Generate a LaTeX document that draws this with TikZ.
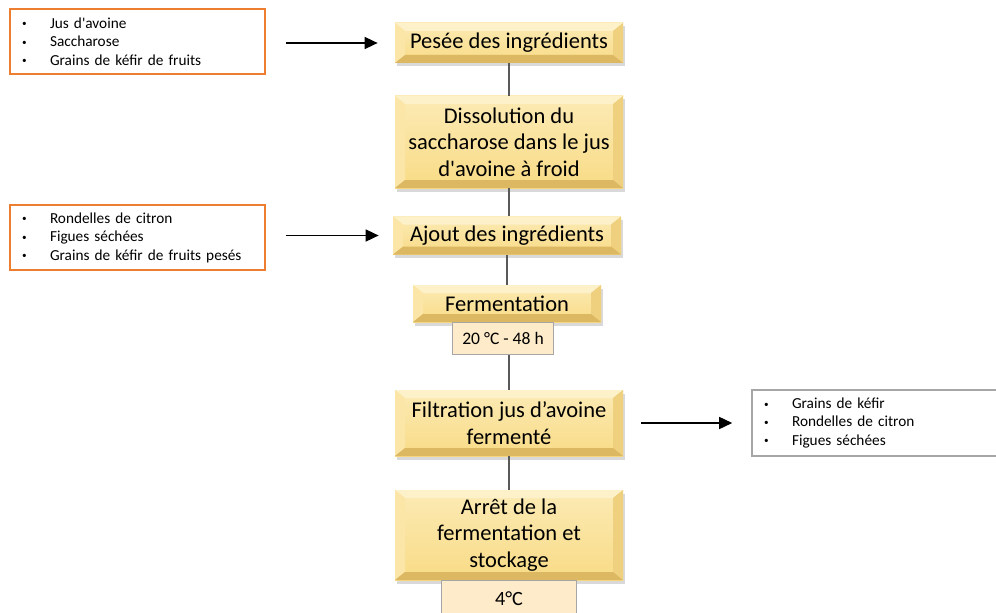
\documentclass[tikz,border=0pt]{standalone}
\usepackage{fontspec}
\setmainfont{Carlito}
\usetikzlibrary{arrows.meta,shadows}
\definecolor{GoldFace}{HTML}{F8DB86}
\definecolor{GoldTop}{HTML}{FDF1C9}
\definecolor{GoldLeft}{HTML}{FBE6A8}
\definecolor{GoldRight}{HTML}{EFD07E}
\definecolor{GoldBottom}{HTML}{DDB863}
\definecolor{PeachSoft}{HTML}{FDEBC9}
\definecolor{EdgeOrange}{HTML}{ED7D31}
\definecolor{EdgeGray}{HTML}{A6A6A6}
\definecolor{LineGray}{HTML}{595959}
\newcommand{\itm}[1]{\makebox[0.56cm][l]{\raisebox{0.2ex}{\scalebox{0.6}{\textbullet}}}#1}

\begin{document}
\begin{tikzpicture}[
        stepbox/.style={
            top color=GoldTop!70!GoldFace,
            bottom color=GoldFace,
            minimum height=0.8cm,
            minimum width=4.56cm,
            inner sep=0pt,
            align=center,
            font=\fontsize{12.8}{15}\selectfont,
            drop shadow={shadow xshift=0.04cm, shadow yshift=-0.07cm, opacity=0.3},
            path picture={
                \path (path picture bounding box.north west) coordinate (pnw)
                      (path picture bounding box.north east) coordinate (pne)
                      (path picture bounding box.south west) coordinate (psw)
                      (path picture bounding box.south east) coordinate (pse);
                \fill[GoldTop] (pnw) -- (pne) -- ([shift={(-0.2,-0.16)}]pne)
                    -- ([shift={(0.2,-0.16)}]pnw) -- cycle;
                \fill[GoldLeft] (pnw) -- ([shift={(0.2,-0.16)}]pnw)
                    -- ([shift={(0.2,0.16)}]psw) -- (psw) -- cycle;
                \fill[GoldRight] (pne) -- ([shift={(-0.2,-0.16)}]pne)
                    -- ([shift={(-0.2,0.16)}]pse) -- (pse) -- cycle;
                \fill[GoldBottom] (psw) -- ([shift={(0.2,0.16)}]psw)
                    -- ([shift={(-0.2,0.16)}]pse) -- (pse) -- cycle;
            }
        },
        condbox/.style={
            draw=EdgeGray,
            fill=PeachSoft,
            inner sep=0pt,
            minimum height=0.64cm
        },
        listbox/.style={
            draw=#1,
            fill=white,
            line width=1.2pt,
            align=left,
            inner xsep=0.24cm,
            inner ysep=0pt,
            minimum height=1.3cm,
            font=\fontsize{8.7}{10.5}\selectfont
        },
        link/.style={line width=0.8pt, draw=LineGray},
        harr/.style={-{Triangle[length=2.6mm, width=2.4mm]}, line width=0.9pt, draw=black}
    ]
        \useasboundingbox (0,0) rectangle (19.92,-12.24);

        % process column
        \node[stepbox] (pesee) at (10.18,-0.86) {Pesée des ingrédients};
        \node[stepbox, minimum height=1.84cm] (dissol) at (10.18,-2.84)
            {Dissolution du\\saccharose dans le jus\\d\textquotesingle avoine à froid};
        \node[stepbox, minimum height=0.76cm] (ajout) at (10.14,-4.71) {Ajout des ingrédients};
        \node[stepbox, minimum width=3.76cm, minimum height=0.74cm] (ferm) at (10.14,-6.07) {Fermentation};
        \node[condbox, minimum width=2.02cm, font=\fontsize{10}{12}\selectfont, anchor=north]
            (temp1) at ([xshift=-0.08cm]ferm.south) {20 °C - 48 h};
        \node[stepbox, minimum height=1.32cm] (filtr) at (10.18,-8.46)
            {Filtration jus d’avoine\\fermenté};
        \node[stepbox, minimum height=1.8cm] (arret) at (10.18,-10.70)
            {Arrêt de la\\fermentation et\\stockage};
        \node[condbox, minimum width=2.70cm, minimum height=0.7cm, font=\fontsize{11.5}{13}\selectfont, anchor=north]
            (temp2) at (arret.south) {4°C};

        % inputs and outputs
        \node[listbox=EdgeOrange, text width=4.62cm] (in1) at (2.75,-0.83)
            {\itm{Jus d\textquotesingle avoine}\\\itm{Saccharose}\\\itm{Grains de kéfir de fruits}};
        \node[listbox=EdgeOrange, text width=4.62cm] (in2) at (2.75,-4.75)
            {\itm{Rondelles de citron}\\\itm{Figues séchées}\\\itm{Grains de kéfir de fruits pesés}};
        \node[listbox=EdgeGray, line width=0.9pt, text width=4.56cm, minimum height=1.32cm] (out) at (17.56,-8.46)
            {\itm{Grains de kéfir}\\\itm{Rondelles de citron}\\\itm{Figues séchées}};

        \draw[link] (pesee) -- (dissol);
        \draw[link] (dissol) -- (dissol |- ajout.north);
        \draw[link] (ajout) -- (ajout |- ferm.north);
        \draw[link] (temp1.south -| filtr) -- (filtr);
        \draw[link] (filtr) -- (arret);

        \draw[harr] ([xshift=0.4cm]in1.east |- pesee) -- ([xshift=-0.34cm]pesee.west);
        \draw[harr] ([xshift=0.4cm]in2.east |- ajout) -- ([xshift=-0.28cm]ajout.west);
        \draw[harr] ([xshift=0.36cm]filtr.east) -- ([xshift=-0.38cm]out.west);
    \end{tikzpicture}
\end{document}
